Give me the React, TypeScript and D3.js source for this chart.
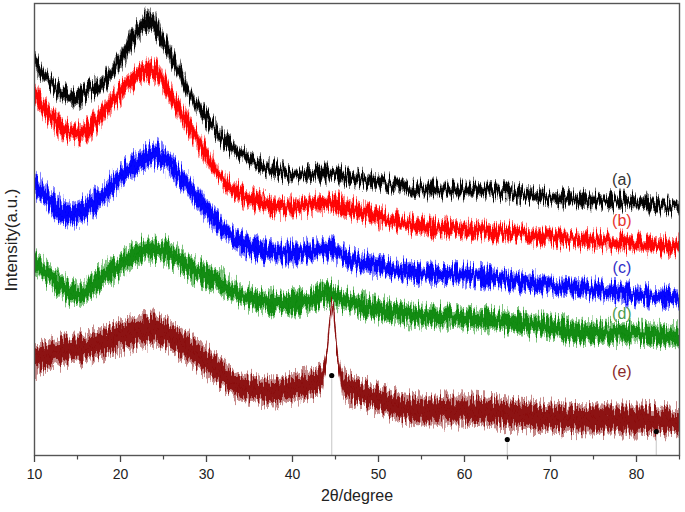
import React from "react";
import * as d3 from "d3";

type Pt = [number, number, number]; // [2θ, intensity (a.u.), noise half-range]

const xTicks = [10, 20, 30, 40, 50, 60, 70, 80];
const xMinorTicks = [15, 25, 35, 45, 55, 65, 75, 85];

const seriesNames = ["(a)", "(b)", "(c)", "(d)", "(e)"];
const seriesColors = ["#000000", "#ff0000", "#0000ff", "#0c8a0c", "#8b0d0d"];
const labelColors = ["#333333", "#e8352e", "#2f2fc8", "#4f9c4f", "#8b2a2a"];
const labelY = [276, 235, 188, 142, 84];

const seriesA: Pt[] = [
  [10, 393, 9], [12, 371, 8], [14, 359, 8], [15, 358, 8], [16, 364, 8], [18, 373, 8],
  [20, 396, 10], [22, 424, 11], [23.5, 434, 12], [25, 414, 10], [27, 381, 9], [29, 348, 8],
  [30, 338, 8], [32, 316, 8], [34, 301, 7], [36, 291, 7], [38, 286, 7], [40, 281, 7],
  [44, 282, 7], [48, 276, 7], [52, 270, 7], [55, 266, 7], [60, 266, 7], [65, 263, 7],
  [70, 258, 7], [75, 255, 7], [80, 253, 7], [85, 248, 6],
];

const seriesB: Pt[] = [
  [10, 361, 10], [12, 338, 10], [14, 323, 10], [15, 321, 10], [17, 333, 10], [19, 354, 10],
  [21, 372, 10], [23, 386, 11], [24, 384, 11], [26, 358, 10], [28, 329, 10], [30, 301, 10],
  [32, 275, 9], [34, 261, 9], [36, 254, 9], [38, 249, 9], [40, 248, 9], [42, 251, 9],
  [44.5, 253, 9], [46, 249, 9], [48, 244, 9], [52, 234, 8], [55, 229, 8], [60, 226, 8],
  [65, 223, 8], [70, 218, 8], [75, 215, 8], [80, 212, 8], [85, 209, 8],
];

const seriesC: Pt[] = [
  [10, 273, 12], [12, 253, 12], [14, 241, 12], [15, 243, 12], [17, 253, 12], [19, 270, 12],
  [21, 286, 12], [23, 298, 12], [24, 301, 12], [26, 288, 11], [28, 268, 11], [30, 246, 11],
  [32, 225, 10], [34, 213, 10], [36, 206, 10], [38, 203, 10], [40, 203, 10], [42, 204, 10],
  [44.5, 207, 10], [46, 198, 10], [48, 193, 10], [50, 190, 10], [52, 186, 10], [55, 182, 9],
  [60, 181, 9], [65, 176, 9], [70, 170, 9], [75, 166, 9], [80, 161, 9], [85, 158, 9],
];

const seriesD: Pt[] = [
  [10, 194, 12], [12, 178, 12], [14, 164, 12], [15, 161, 12], [17, 173, 12], [19, 185, 12],
  [21, 196, 12], [23, 206, 12], [25, 205, 12], [27, 194, 12], [29, 184, 12], [30, 181, 12],
  [32, 171, 12], [34, 161, 11], [36, 155, 11], [38, 153, 11], [40, 153, 11], [42, 156, 11],
  [44.5, 162, 11], [46, 155, 11], [48, 150, 11], [50, 146, 11], [52, 143, 11], [55, 140, 11],
  [60, 138, 11], [65, 134, 11], [70, 128, 11], [75, 123, 11], [80, 122, 11], [85, 119, 11],
];

const seriesE: Pt[] = [
  [10, 96, 16], [12, 101, 15], [14, 106, 15], [16, 108, 15], [18, 113, 15], [20, 120, 16],
  [22, 123, 16], [24, 126, 16], [26, 118, 15], [28, 106, 15], [30, 94, 15], [32, 80, 14],
  [34, 68, 14], [36, 66, 14], [38, 64, 14], [40, 68, 14], [42, 71, 14], [43.5, 79, 12],
  [43.9, 96, 6], [44.2, 121, 3], [44.45, 146, 2.5], [44.6, 154, 2], [44.75, 146, 2.5],
  [45.0, 121, 3], [45.3, 96, 6], [45.7, 76, 12], [46, 71, 14], [48, 63, 14], [50, 56, 14],
  [52, 50, 14], [55, 45, 15], [60, 45, 15], [65, 42, 15], [70, 38, 15], [75, 36, 15],
  [80, 36, 15], [85, 33, 15],
];

const allSeries = [seriesA, seriesB, seriesC, seriesD, seriesE];

// reference-phase markers: [2θ, intensity]
const markers: [number, number][] = [
  [44.56, 80], [64.98, 16], [82.3, 24],
];

const W = 685;
const H = 512;

export default function App() {
  const x = d3.scaleLinear().domain([10, 85]).range([34.5, 679.5]);
  const y = d3.scaleLinear().domain([0, 452]).range([455.5, 3.5]);

  const band = (k: number) =>
    d3
      .area<Pt>()
      .x((d) => x(d[0]))
      .y0((d) => y(d[1] - d[2] * k))
      .y1((d) => y(d[1] + d[2] * k))
      .curve(d3.curveMonotoneX);

  const core = band(0.68);
  const fringe = band(1.0);
  const center = d3
    .line<Pt>()
    .x((d) => x(d[0]))
    .y((d) => y(d[1]))
    .curve(d3.curveMonotoneX);

  const [x0, x1] = x.range();
  const [yb, yt] = y.range();

  return (
    <svg
      width={W}
      height={H}
      style={{ position: "absolute", left: 0, top: 0, background: "#fff" }}
      fontFamily="'Liberation Sans', Arial, sans-serif"
    >
      <defs>
        {[0, 1, 2, 3, 4].map((i) => (
          <filter
            key={i}
            id={`noise${i}`}
            x="-2%"
            y="-40%"
            width="104%"
            height="180%"
          >
            <feTurbulence
              type="fractalNoise"
              baseFrequency="0.55 0.04"
              numOctaves={2}
              seed={i * 7 + 3}
              result="t"
            />
            <feColorMatrix
              in="t"
              type="matrix"
              values="2.4 0 0 0 -0.7  0 0 0 0 0.5  0 0 0 0 0  0 0 0 0 1"
              result="m"
            />
            <feDisplacementMap
              in="SourceGraphic"
              in2="m"
              scale={12}
              xChannelSelector="G"
              yChannelSelector="R"
            />
          </filter>
        ))}
      </defs>

      {/* drop lines */}
      {markers.map(([mx, my], i) => (
        <line
          key={`dl${i}`}
          x1={x(mx)}
          x2={x(mx)}
          y1={y(my)}
          y2={yb}
          stroke="#cfcfcf"
          strokeWidth={1.2}
        />
      ))}

      {/* series */}
      {allSeries.map((s, i) => (
        <g key={`s${i}`} filter={`url(#noise${i})`}>
          <path d={fringe(s) ?? ""} fill={seriesColors[i]} fillOpacity={0.5} />
          <path d={core(s) ?? ""} fill={seriesColors[i]} fillOpacity={0.95} />
          <path d={center(s) ?? ""} fill="none" stroke={seriesColors[i]} strokeWidth={1.4} />
        </g>
      ))}

      {/* markers */}
      {markers.map(([mx, my], i) => (
        <circle key={`m${i}`} cx={x(mx)} cy={y(my)} r={2.6} fill="#000" />
      ))}

      {/* series labels */}
      {seriesNames.map((n, i) => (
        <text
          key={`l${i}`}
          x={x(78.3)}
          y={y(labelY[i])}
          dy="0.35em"
          textAnchor="middle"
          fontSize={16}
          fill={labelColors[i]}
        >
          {n}
        </text>
      ))}

      {/* frame */}
      <rect
        x={x0}
        y={yt}
        width={x1 - x0}
        height={yb - yt}
        fill="none"
        stroke="#555"
        strokeWidth={1.4}
      />

      {/* ticks */}
      {xTicks.map((t) => (
        <g key={`t${t}`}>
          <line x1={x(t)} x2={x(t)} y1={yb} y2={yb + 6.5} stroke="#444" strokeWidth={1.3} />
          <text x={x(t)} y={479} textAnchor="middle" fontSize={14} fill="#222">
            {t}
          </text>
        </g>
      ))}
      {xMinorTicks.map((t) => (
        <line key={`mt${t}`} x1={x(t)} x2={x(t)} y1={yb} y2={yb + 4} stroke="#444" strokeWidth={1.2} />
      ))}

      <text x={357} y={501} textAnchor="middle" fontSize={16} fill="#222">
        2θ/degree
      </text>
      <text
        transform="translate(11,240) rotate(-90)"
        textAnchor="middle"
        dy="0.35em"
        fontSize={17}
        fill="#222"
      >
        Intensity(a.u.)
      </text>
    </svg>
  );
}
